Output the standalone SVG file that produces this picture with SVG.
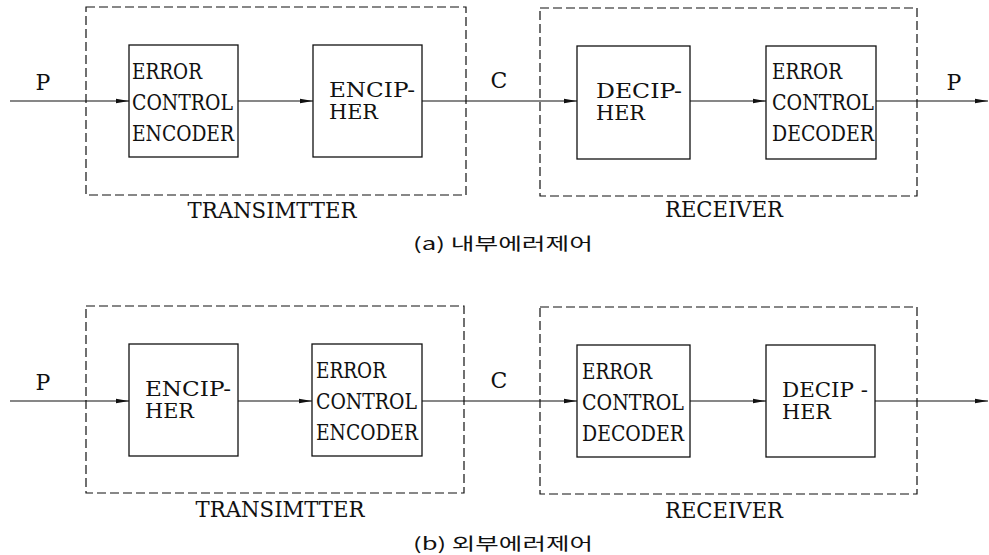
<svg xmlns="http://www.w3.org/2000/svg" width="989" height="555" viewBox="0 0 989 555">
<style>
.box{fill:#fff;stroke:#111;stroke-width:1.3}
.dash{fill:none;stroke:#111;stroke-width:1.2;stroke-dasharray:9 4}
.ln{fill:none;stroke:#111;stroke-width:1.2}
text{fill:#111}
.t{font-family:'DejaVu Serif','Liberation Serif',serif;font-size:22px}
.t2{font-family:'DejaVu Serif','Liberation Serif',serif;font-size:20px}
.cap{font-family:'Noto Sans CJK KR','Noto Sans',sans-serif;font-size:17px}
</style>
<defs>
<marker id="ah" markerWidth="13" markerHeight="6" refX="13" refY="3" orient="auto" markerUnits="userSpaceOnUse">
<path d="M0,0.8 L13,3 L0,5.2 Z" fill="#111"/>
</marker>
</defs>
<rect width="989" height="555" fill="#fff"/>

<!-- Panel (a) -->
<g id="a-transmitter">
<rect class="dash" x="86" y="7" width="380" height="188"/>
<text class="t" x="272" y="218" text-anchor="middle" textLength="169" lengthAdjust="spacingAndGlyphs">TRANSIMTTER</text>
</g>
<g id="a-ece">
<rect class="box" x="129" y="45" width="109" height="112"/>
<text class="t" x="132" y="79" textLength="70" lengthAdjust="spacingAndGlyphs">ERROR</text>
<text class="t" x="132" y="110" textLength="101" lengthAdjust="spacingAndGlyphs">CONTROL</text>
<text class="t" x="132" y="141" textLength="102" lengthAdjust="spacingAndGlyphs">ENCODER</text>
</g>
<g id="a-encipher">
<rect class="box" x="313" y="45" width="109" height="112"/>
<text class="t2" x="329" y="97" textLength="86" lengthAdjust="spacingAndGlyphs">ENCIP-</text>
<text class="t2" x="329" y="119" textLength="49" lengthAdjust="spacingAndGlyphs">HER</text>
</g>
<g id="a-receiver">
<rect class="dash" x="540" y="8" width="377" height="188"/>
<text class="t" x="724" y="217" text-anchor="middle" textLength="118" lengthAdjust="spacingAndGlyphs">RECEIVER</text>
</g>
<g id="a-decipher">
<rect class="box" x="577" y="46" width="113" height="113"/>
<text class="t2" x="596" y="98" textLength="86" lengthAdjust="spacingAndGlyphs">DECIP-</text>
<text class="t2" x="596" y="120" textLength="49" lengthAdjust="spacingAndGlyphs">HER</text>
</g>
<g id="a-ecd">
<rect class="box" x="766" y="46" width="110" height="113"/>
<text class="t" x="772" y="79" textLength="70" lengthAdjust="spacingAndGlyphs">ERROR</text>
<text class="t" x="772" y="110" textLength="102" lengthAdjust="spacingAndGlyphs">CONTROL</text>
<text class="t" x="772" y="141" textLength="102" lengthAdjust="spacingAndGlyphs">DECODER</text>
</g>
<g id="a-labels">
<text class="t" x="43" y="90" text-anchor="middle">P</text>
<text class="t" x="499" y="88" text-anchor="middle">C</text>
<text class="t" x="954" y="90" text-anchor="middle">P</text>
<text class="cap" x="413" y="250" textLength="180" lengthAdjust="spacingAndGlyphs">(a) 내부에러제어</text>
</g>

<!-- Panel (b) -->
<g id="b-transmitter">
<rect class="dash" x="86" y="306" width="378" height="187"/>
<text class="t" x="280" y="517" text-anchor="middle" textLength="169" lengthAdjust="spacingAndGlyphs">TRANSIMTTER</text>
</g>
<g id="b-encipher">
<rect class="box" x="129" y="344" width="109" height="112"/>
<text class="t2" x="145" y="396" textLength="86" lengthAdjust="spacingAndGlyphs">ENCIP-</text>
<text class="t2" x="145" y="418" textLength="49" lengthAdjust="spacingAndGlyphs">HER</text>
</g>
<g id="b-ece">
<rect class="box" x="312" y="344" width="110" height="112"/>
<text class="t" x="316" y="378" textLength="70" lengthAdjust="spacingAndGlyphs">ERROR</text>
<text class="t" x="316" y="409" textLength="101" lengthAdjust="spacingAndGlyphs">CONTROL</text>
<text class="t" x="316" y="440" textLength="102" lengthAdjust="spacingAndGlyphs">ENCODER</text>
</g>
<g id="b-receiver">
<rect class="dash" x="540" y="307" width="377" height="187"/>
<text class="t" x="724" y="518" text-anchor="middle" textLength="118" lengthAdjust="spacingAndGlyphs">RECEIVER</text>
</g>
<g id="b-ecd">
<rect class="box" x="577" y="345" width="113" height="112"/>
<text class="t" x="582" y="379" textLength="70" lengthAdjust="spacingAndGlyphs">ERROR</text>
<text class="t" x="582" y="410" textLength="102" lengthAdjust="spacingAndGlyphs">CONTROL</text>
<text class="t" x="582" y="441" textLength="102" lengthAdjust="spacingAndGlyphs">DECODER</text>
</g>
<g id="b-decipher">
<rect class="box" x="766" y="345" width="109" height="112"/>
<text class="t2" x="782" y="397" textLength="86" lengthAdjust="spacingAndGlyphs">DECIP -</text>
<text class="t2" x="782" y="419" textLength="49" lengthAdjust="spacingAndGlyphs">HER</text>
</g>
<g id="b-labels">
<text class="t" x="43" y="390" text-anchor="middle">P</text>
<text class="t" x="499" y="388" text-anchor="middle">C</text>
<text class="cap" x="413" y="550" textLength="180" lengthAdjust="spacingAndGlyphs">(b) 외부에러제어</text>
</g>

<g id="connectors">
<line class="ln" x1="10" y1="101" x2="129" y2="101" marker-end="url(#ah)"/>
<line class="ln" x1="238" y1="101" x2="313" y2="101" marker-end="url(#ah)"/>
<line class="ln" x1="422" y1="101" x2="577" y2="101" marker-end="url(#ah)"/>
<line class="ln" x1="690" y1="101" x2="766" y2="101" marker-end="url(#ah)"/>
<line class="ln" x1="876" y1="101" x2="988" y2="101" marker-end="url(#ah)"/>
<line class="ln" x1="10" y1="401" x2="129" y2="401" marker-end="url(#ah)"/>
<line class="ln" x1="238" y1="401" x2="312" y2="401" marker-end="url(#ah)"/>
<line class="ln" x1="422" y1="401" x2="577" y2="401" marker-end="url(#ah)"/>
<line class="ln" x1="690" y1="401" x2="766" y2="401" marker-end="url(#ah)"/>
<line class="ln" x1="875" y1="401" x2="988" y2="401" marker-end="url(#ah)"/>
</g>
</svg>
